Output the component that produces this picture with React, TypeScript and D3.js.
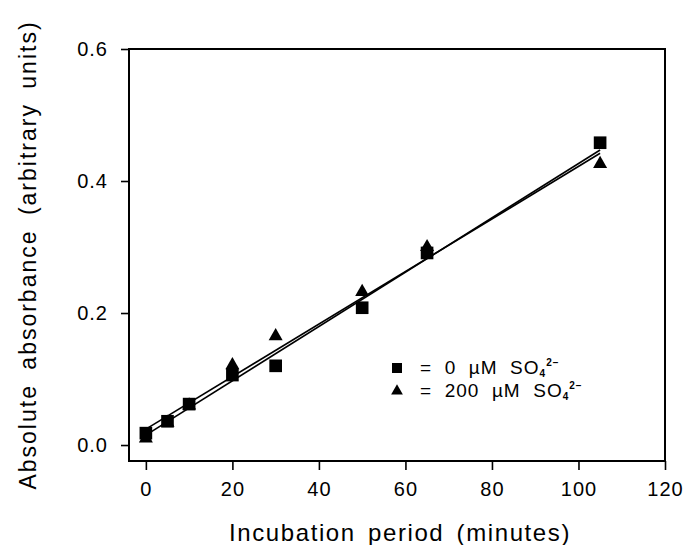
import React, { useEffect, useRef } from "react";
import * as d3 from "d3";

// incubation time (minutes)
const minutes = [0, 5, 10, 20, 30, 50, 65, 105];
// absorbance, 0 uM sulfate (squares)
const noSulfate = [0.018, 0.036, 0.062, 0.106, 0.12, 0.208, 0.291, 0.458];
// absorbance, 200 uM sulfate (triangles)
const withSulfate = [0.01, 0.034, 0.06, 0.121, 0.165, 0.232, 0.3, 0.426];
// fitted lines, endpoints [minutes, absorbance]
const fitNoSulfate = [[0, 0.015], [105, 0.447]];
const fitWithSulfate = [[0, 0.024], [105, 0.442]];

const xTicks = [0, 20, 40, 60, 80, 100, 120];
const yTicks = [0, 0.2, 0.4, 0.6];
const legendLabels = ["0", "200"];

const FONT = "'Liberation Sans', Arial, Helvetica, sans-serif";

const App = () => {
  const svgRef = useRef<SVGSVGElement>(null);

  useEffect(() => {
    const svg = d3.select(svgRef.current);
    svg.selectAll("*").remove();

    const left = 129, right = 665, top = 49, bottom = 461;
    const x = d3.scaleLinear().domain([-3.9, 120]).range([left, right]);
    const y = d3.scaleLinear().domain([-0.0242, 0.6]).range([bottom, top]);

    const g = svg.append("g");

    // frame
    g.append("rect")
      .attr("x", left)
      .attr("y", top)
      .attr("width", right - left)
      .attr("height", bottom - top)
      .attr("fill", "none")
      .attr("stroke", "#000")
      .attr("stroke-width", 2);

    const styleTicks = (sel) =>
      sel.selectAll("text")
        .style("font-family", FONT)
        .style("font-size", "20px")
        .style("letter-spacing", "1px")
        .attr("fill", "#000");

    // y axis ticks, outside the frame
    const yAxis = g.append("g").attr("transform", `translate(${left},0)`)
      .call(d3.axisLeft(y).tickValues(yTicks).tickFormat(d3.format(".1f")).tickSize(8).tickPadding(13));
    yAxis.select(".domain").remove();
    yAxis.selectAll("line").attr("stroke-width", 1.6);
    styleTicks(yAxis);

    // x axis ticks, hanging below the frame
    const xAxis = g.append("g").attr("transform", `translate(0,${bottom})`)
      .call(d3.axisBottom(x).tickValues(xTicks).tickFormat(d3.format("d")).tickSize(9).tickPadding(12));
    xAxis.select(".domain").remove();
    xAxis.selectAll("line").attr("stroke-width", 1.6);
    styleTicks(xAxis);

    // fitted lines
    const line = d3.line<number[]>().x((d) => x(d[0])).y((d) => y(d[1]));
    [fitNoSulfate, fitWithSulfate].forEach((pts) => {
      g.append("path")
        .attr("d", line(pts))
        .attr("fill", "none")
        .attr("stroke", "#000")
        .attr("stroke-width", 1.6);
    });

    const square = d3.symbol().type(d3.symbolSquare).size(160);
    const triangle = d3.symbol().type(d3.symbolTriangle).size(85);

    // triangles first, squares on top
    g.selectAll(".tri")
      .data(minutes)
      .enter()
      .append("path")
      .attr("class", "tri")
      .attr("d", triangle)
      .attr("transform", (d, i) => `translate(${x(d)},${y(withSulfate[i])})`)
      .attr("fill", "#000");

    g.selectAll(".sq")
      .data(minutes)
      .enter()
      .append("path")
      .attr("class", "sq")
      .attr("d", square)
      .attr("transform", (d, i) => `translate(${x(d)},${y(noSulfate[i])})`)
      .attr("fill", "#000");

    // legend
    const legendSyms = [
      d3.symbol().type(d3.symbolSquare).size(100),
      d3.symbol().type(d3.symbolTriangle).size(60),
    ];
    legendLabels.forEach((label, i) => {
      const ty = 374 + i * 23;
      g.append("path")
        .attr("d", legendSyms[i]())
        .attr("transform", `translate(397,${ty - 6})`)
        .attr("fill", "#000");
      const t = g.append("text")
        .attr("x", 420)
        .attr("y", ty)
        .style("font-family", FONT)
        .style("font-size", "19px")
        .style("letter-spacing", "1px")
        .style("white-space", "pre")
        .attr("fill", "#000");
      t.append("tspan").text(`=  ${label}  µM  SO`);
      t.append("tspan").attr("dy", 3).style("font-size", "10px").style("font-weight", "bold").text("4");
      t.append("tspan").attr("dy", -11).style("font-size", "10px").style("font-weight", "bold").text("2−");
    });

    // axis titles
    g.append("text")
      .attr("x", (left + right) / 2 + 3)
      .attr("y", 541)
      .attr("text-anchor", "middle")
      .style("font-family", FONT)
      .style("font-size", "24px")
      .style("letter-spacing", "1.6px")
      .style("word-spacing", "4px")
      .attr("fill", "#000")
      .text("Incubation period (minutes)");

    g.append("text")
      .attr("transform", `translate(36,${(top + bottom) / 2}) rotate(-90)`)
      .attr("text-anchor", "middle")
      .style("font-family", FONT)
      .style("font-size", "23px")
      .style("letter-spacing", "2px")
      .style("word-spacing", "6px")
      .attr("fill", "#000")
      .text("Absolute absorbance (arbitrary units)");
  }, []);

  return (
    <svg
      ref={svgRef}
      width={687}
      height={545}
      style={{ position: "absolute", left: 0, top: 0, background: "#fff" }}
    ></svg>
  );
};

export default App;
